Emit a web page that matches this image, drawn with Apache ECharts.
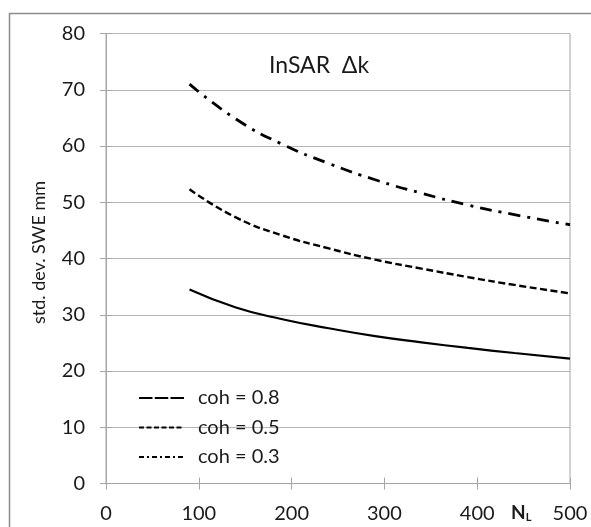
<!DOCTYPE html>
<html>
<head>
<meta charset="utf-8">
<script src="https://cdn.jsdelivr.net/npm/echarts@6/dist/echarts.min.js"></script>
<style>
  html, body { margin: 0; padding: 0; background: #fff; }
  #chart { width: 591px; height: 527px; }
</style>
</head>
<body>
<div id="chart"></div>
<script>
// Number of looks N_L
const looks = [90, 140, 190, 240, 290, 340, 390, 440, 500];
// Standard deviation of SWE (mm) for each coherence level
const coh08 = [34.5, 31.3, 29.2, 27.6, 26.2, 25.1, 24.1, 23.2, 22.2];
const coh05 = [52.3, 47.3, 44.1, 41.8, 39.8, 38.2, 36.7, 35.3, 33.8];
const coh03 = [71.0, 64.8, 60.3, 56.9, 54.0, 51.6, 49.5, 47.8, 46.0];
const seriesNames = ['coh = 0.8', 'coh = 0.5', 'coh = 0.3'];
const yTicks = [0, 10, 20, 30, 40, 50, 60, 70, 80];
const xTicks = [0, 100, 200, 300, 400, 500];

const pairs = (ys) => looks.map((x, i) => [x, ys[i]]);
const FONT = 'Lato';
const INK = '#1a1a1a';
const AXIS_GREY = '#a6a6a6';

// Second, label-less axes draw the inner half of each tick so ticks cross the axis line
const innerTicks = (extra) => Object.assign({
  type: 'value', axisLine: { show: false }, axisLabel: { show: false }, splitLine: { show: false },
  axisTick: { show: true, inside: true, length: 6, lineStyle: { color: AXIS_GREY } }
}, extra);

const chart = echarts.init(document.getElementById('chart'), null, { renderer: 'canvas' });
chart.setOption({
  backgroundColor: '#fff',
  animation: false,
  grid: {
    left: 106, right: 21, top: 33.5, bottom: 43.5,
    show: true, borderColor: AXIS_GREY, borderWidth: 1
  },
  xAxis: [{
    type: 'value', min: xTicks[0], max: xTicks[xTicks.length - 1], interval: 100,
    axisLine: { lineStyle: { color: AXIS_GREY } },
    axisTick: { show: true, length: 6, lineStyle: { color: AXIS_GREY } },
    axisLabel: { margin: 20, fontFamily: FONT, fontSize: 20, color: INK },
    splitLine: { show: false }
  }, innerTicks({ position: 'bottom', min: xTicks[0], max: xTicks[xTicks.length - 1], interval: 100 })],
  yAxis: [{
    type: 'value', min: yTicks[0], max: yTicks[yTicks.length - 1], interval: 10,
    name: 'std. dev. SWE mm', nameLocation: 'middle', nameGap: 58,
    nameTextStyle: { fontFamily: FONT, fontSize: 18, color: INK, padding: [0, 0, 0, 12] },
    axisLine: { show: true, lineStyle: { color: AXIS_GREY } },
    axisTick: { show: true, length: 6, lineStyle: { color: AXIS_GREY } },
    axisLabel: { margin: 21, fontFamily: FONT, fontSize: 20, color: INK },
    splitLine: { show: true, lineStyle: { color: '#b5b5b5', width: 1 } }
  }, innerTicks({ position: 'left', min: yTicks[0], max: yTicks[yTicks.length - 1], interval: 10 })],
  legend: {
    orient: 'vertical', left: 133, top: 381, itemGap: 5.5,
    itemWidth: 45, itemHeight: 14,
    itemStyle: { opacity: 0 },
    textStyle: { fontFamily: FONT, fontSize: 20, lineHeight: 24, color: INK, padding: [0, 0, 0, 9] },
    data: [
      { name: seriesNames[0], lineStyle: { type: [13.5, 2.25], width: 2 } },
      { name: seriesNames[1], lineStyle: { type: [5, 2.5], width: 2 } },
      { name: seriesNames[2], lineStyle: { type: [5, 3, 2, 3], width: 2 } }
    ]
  },
  graphic: [
    { type: 'rect', left: 7, top: 11, shape: { width: 600, height: 540 },
      style: { fill: 'none', stroke: '#8c8c8c', lineWidth: 1.5 }, silent: true },
    { type: 'text', left: 269, top: 54,
      style: { text: 'InSAR  \u0394k', fontFamily: FONT, fontSize: 23, fill: INK } },
    { type: 'text', left: 511, top: 503,
      style: { text: '{b|N}{s|L}', rich: {
        b: { fontFamily: FONT, fontSize: 19, fontWeight: 'bold', fill: INK },
        s: { fontFamily: FONT, fontSize: 11, fontWeight: 'bold', fill: INK, padding: [9, 0, 0, 0] }
      } } }
  ],
  series: [
    { name: seriesNames[0], type: 'line', data: pairs(coh08), smooth: 0.5,
      symbol: 'none', lineStyle: { color: '#000', width: 2.2, type: 'solid' }, itemStyle: { color: '#000' } },
    { name: seriesNames[1], type: 'line', data: pairs(coh05), smooth: 0.5,
      symbol: 'none', lineStyle: { color: '#000', width: 2.4, type: [7, 3.5] }, itemStyle: { color: '#000' } },
    { name: seriesNames[2], type: 'line', data: pairs(coh03), smooth: 0.5,
      symbol: 'none', lineStyle: { color: '#000', width: 2.8, type: [12, 7, 3, 7] }, itemStyle: { color: '#000' } }
  ]
});
</script>
</body>
</html>
